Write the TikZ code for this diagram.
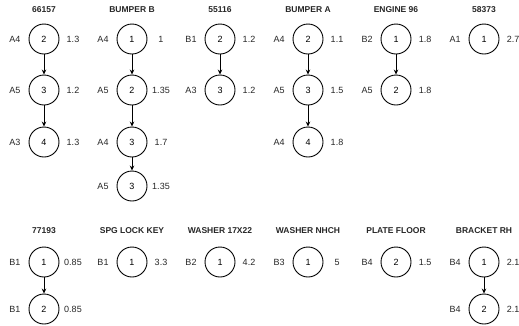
\documentclass[tikz,border=0pt]{standalone}
\usepackage{fontspec}
\setmainfont{Liberation Sans}
\usetikzlibrary{arrows.meta}
\tikzset{
  circ/.style={draw=black, line width=0.9pt, circle, minimum size=30pt, inner sep=0pt, font=\fontsize{9}{10}\selectfont},
  lbl/.style={font=\fontsize{9}{10}\selectfont, inner sep=0pt, text=black!85},
  ttl/.style={font=\fontsize{8.5}{10}\selectfont\bfseries, inner sep=0pt, text=black!85},
  conn/.style={draw=black, line width=0.8pt, -{Stealth[length=5pt,width=4.5pt]}}
}
\newcommand{\bomnode}[6]{%
  \node[circ] (#1) at (#2,#3) {#5};
  \node[lbl] (#1l) at (#2-29,#3) {#4};
  \node[lbl] (#1r) at (#2+29,#3) {#6};
}
\begin{document}
\begin{tikzpicture}[x=1pt,y=-1pt]
\useasboundingbox (0,0) rectangle (519,325);
% top titles
\node[ttl] (t1) at (44,10) {66157};
\node[ttl] (t2) at (132,10) {BUMPER B};
\node[ttl] (t3) at (220,10) {55116};
\node[ttl] (t4) at (308,10) {BUMPER A};
\node[ttl] (t5) at (396,10) {ENGINE 96};
\node[ttl] (t6) at (484,10) {58373};
% 66157
\bomnode{a1}{44}{39}{A4}{2}{1.3}
\bomnode{a2}{44}{90}{A5}{3}{1.2}
\bomnode{a3}{44}{142}{A3}{4}{1.3}
\draw[conn] (a1) -- (a2);
\draw[conn] (a2) -- (a3);
% BUMPER B
\bomnode{b1}{132}{39}{A4}{1}{1}
\bomnode{b2}{132}{90}{A5}{2}{1.35}
\bomnode{b3}{132}{142}{A4}{3}{1.7}
\bomnode{b4}{132}{186}{A5}{3}{1.35}
\draw[conn] (b1) -- (b2);
\draw[conn] (b2) -- (b3);
\draw[conn] (b3) -- (b4);
% 55116
\bomnode{c1}{220}{39}{B1}{2}{1.2}
\bomnode{c2}{220}{90}{A3}{3}{1.2}
\draw[conn] (c1) -- (c2);
% BUMPER A
\bomnode{d1}{308}{39}{A4}{2}{1.1}
\bomnode{d2}{308}{90}{A5}{3}{1.5}
\bomnode{d3}{308}{142}{A4}{4}{1.8}
\draw[conn] (d1) -- (d2);
\draw[conn] (d2) -- (d3);
% ENGINE 96
\bomnode{e1}{396}{39}{B2}{1}{1.8}
\bomnode{e2}{396}{90}{A5}{2}{1.8}
\draw[conn] (e1) -- (e2);
% 58373
\bomnode{f1}{484}{39}{A1}{1}{2.7}
% bottom titles
\node[ttl] (t7) at (44,231) {77193};
\node[ttl] (t8) at (132,231) {SPG LOCK KEY};
\node[ttl] (t9) at (220,231) {WASHER 17X22};
\node[ttl] (t10) at (308,231) {WASHER NHCH};
\node[ttl] (t11) at (396,231) {PLATE FLOOR};
\node[ttl] (t12) at (484,231) {BRACKET RH};
% 77193
\bomnode{g1}{44}{262}{B1}{1}{0.85}
\bomnode{g2}{44}{309}{B1}{2}{0.85}
\draw[conn] (g1) -- (g2);
% SPG LOCK KEY
\bomnode{h1}{132}{262}{B1}{1}{3.3}
% WASHER 17X22
\bomnode{i1}{220}{262}{B2}{1}{4.2}
% WASHER NHCH
\bomnode{j1}{308}{262}{B3}{1}{5}
% PLATE FLOOR
\bomnode{k1}{396}{262}{B4}{2}{1.5}
% BRACKET RH
\bomnode{m1}{484}{262}{B4}{1}{2.1}
\bomnode{m2}{484}{309}{B4}{2}{2.1}
\draw[conn] (m1) -- (m2);
\end{tikzpicture}
\end{document}
